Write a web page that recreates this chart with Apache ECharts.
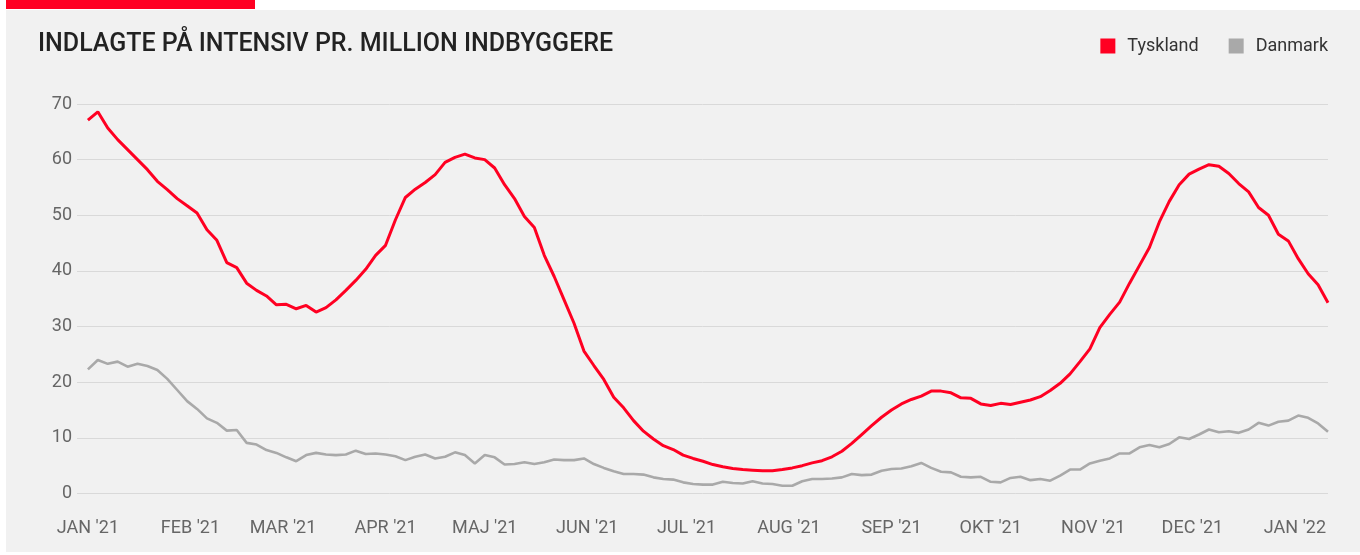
<!DOCTYPE html>
<html lang="da">
<head>
    <meta charset="UTF-8">
    <title>Indlagte på intensiv</title>
    <style>
        body{
            margin: 0;
            background-color: #ffffff;
        }
        #chart{
            width: 1360px;
            height: 555px;
        }
    </style>
    <script src="https://cdn.jsdelivr.net/npm/echarts@6/dist/echarts.min.js"></script>
</head>
<body>
<div id="chart"></div>
<script type="text/javascript">
    // dage fra 1. jan 2021, en måling hver 3. dag
    var step = 3;
    var monthLabels = ["JAN '21", "FEB '21", "MAR '21", "APR '21", "MAJ '21", "JUN '21", "JUL '21",
        "AUG '21", "SEP '21", "OKT '21", "NOV '21", "DEC '21", "JAN '22"];
    var yTicks = [0, 10, 20, 30, 40, 50, 60, 70];

    var tyskland = [
        67.1, 68.6, 65.7, 63.6, 61.8, 60.0, 58.2, 56.1, 54.6, 53.0,
        51.7, 50.4, 47.4, 45.5, 41.5, 40.6, 37.8, 36.5, 35.5, 33.9,
        34.0, 33.2, 33.8, 32.6, 33.4, 34.8, 36.5, 38.3, 40.3, 42.8,
        44.6, 49.2, 53.2, 54.7, 55.9, 57.3, 59.5, 60.4, 61.0, 60.3,
        60.0, 58.5, 55.5, 53.0, 49.8, 47.8, 42.8, 39.0, 34.8, 30.6,
        25.6, 23.0, 20.5, 17.3, 15.4, 13.1, 11.2, 9.8, 8.6, 7.9,
        6.9, 6.3, 5.8, 5.2, 4.8, 4.5, 4.3, 4.2, 4.1, 4.1,
        4.3, 4.6, 5.0, 5.5, 5.9, 6.6, 7.6, 9.0, 10.6, 12.2,
        13.7, 15.0, 16.1, 16.9, 17.5, 18.4, 18.4, 18.1, 17.2, 17.1,
        16.1, 15.8, 16.2, 16.0, 16.4, 16.8, 17.4, 18.5, 19.8, 21.5,
        23.7, 26.0, 29.8, 32.2, 34.4, 37.8, 41.0, 44.2, 48.8, 52.5,
        55.5, 57.4, 58.3, 59.1, 58.8, 57.5, 55.7, 54.2, 51.4, 50.0,
        46.6, 45.4, 42.2, 39.5, 37.5, 34.3
    ];

    var danmark = [
        22.3, 24.0, 23.3, 23.7, 22.8, 23.3, 22.9, 22.2, 20.6, 18.6,
        16.6, 15.2, 13.5, 12.7, 11.3, 11.4, 9.1, 8.8, 7.8, 7.3,
        6.5, 5.8, 6.9, 7.3, 7.0, 6.9, 7.0, 7.7, 7.1, 7.2,
        7.0, 6.7, 6.0, 6.6, 7.0, 6.3, 6.6, 7.4, 6.9, 5.4,
        6.9, 6.5, 5.2, 5.3, 5.6, 5.3, 5.6, 6.1, 6.0, 6.0,
        6.3, 5.3, 4.6, 4.0, 3.5, 3.5, 3.4, 2.9, 2.6, 2.5,
        2.0, 1.7, 1.6, 1.6, 2.1, 1.9, 1.8, 2.2, 1.8, 1.7,
        1.4, 1.4, 2.2, 2.6, 2.6, 2.7, 2.9, 3.5, 3.3, 3.4,
        4.1, 4.4, 4.5, 4.9, 5.5, 4.6, 3.9, 3.8, 3.0, 2.9,
        3.0, 2.1, 2.0, 2.8, 3.0, 2.4, 2.6, 2.3, 3.2, 4.3,
        4.3, 5.4, 5.9, 6.3, 7.2, 7.2, 8.3, 8.7, 8.3, 8.9,
        10.1, 9.8, 10.6, 11.5, 11.0, 11.2, 10.9, 11.5, 12.7, 12.2,
        12.9, 13.1, 14.0, 13.6, 12.6, 11.1
    ];

    // månedsstart som dag-nummer
    var monthTicks = [];
    for (var m = 0; m < monthLabels.length; m++) {
        monthTicks.push((Date.UTC(2021, m, 1) - Date.UTC(2021, 0, 1)) / 86400000);
    }

    function toPoints(arr) {
        return arr.map(function (v, i) { return [i * step, v]; });
    }

    var font = 'Roboto, "Liberation Sans", sans-serif';

    var option = {
        animation: false,
        textStyle: {fontFamily: font},
        graphic: [
            {type: 'rect', left: 6, top: 10, shape: {width: 1354, height: 542}, style: {fill: '#f1f1f1'}, z: -10},
            {type: 'rect', left: 6, top: 0, shape: {width: 249, height: 9}, style: {fill: '#ff0022'}, z: -10}
        ],
        title: {
            text: 'INDLAGTE PÅ INTENSIV PR. MILLION INDBYGGERE',
            left: 33,
            top: 27,
            textStyle: {fontFamily: font, fontSize: 25, fontWeight: 500, color: '#222222'}
        },
        legend: {
            right: 27,
            top: 32,
            icon: 'rect',
            itemWidth: 15,
            itemHeight: 15,
            itemGap: 30,
            textStyle: {fontFamily: font, fontSize: 18, color: '#333333', padding: [0, 0, 0, 7]},
            data: ['Tyskland', 'Danmark']
        },
        grid: {left: 77, right: 32, top: 104, bottom: 61.5},
        xAxis: {
            type: 'value',
            min: -3.3,
            max: 375,
            axisLine: {show: false},
            axisTick: {show: false},
            splitLine: {show: false},
            axisLabel: {
                customValues: monthTicks,
                margin: 26,
                fontSize: 18,
                color: '#666666',
                fontFamily: font,
                formatter: function (v) {
                    var i = monthTicks.indexOf(v);
                    return i >= 0 ? monthLabels[i] : '';
                }
            }
        },
        yAxis: {
            type: 'value',
            min: yTicks[0],
            max: yTicks[yTicks.length - 1],
            interval: 10,
            axisLine: {show: false},
            axisTick: {show: false},
            axisLabel: {fontSize: 18, color: '#666666', margin: 5, fontFamily: font},
            splitLine: {lineStyle: {color: '#d9d9d9', width: 1}}
        },
        series: [
            {
                name: 'Tyskland',
                type: 'line',
                data: toPoints(tyskland),
                showSymbol: false,
                color: '#ff0022',
                lineStyle: {width: 3, color: '#ff0022'},
                z: 3
            },
            {
                name: 'Danmark',
                type: 'line',
                data: toPoints(danmark),
                showSymbol: false,
                color: '#a9a9a9',
                lineStyle: {width: 2.6, color: '#a9a9a9'},
                z: 2
            }
        ]
    };

    var chart = echarts.init(document.getElementById('chart'));
    chart.setOption(option);
</script>
</body>
</html>
